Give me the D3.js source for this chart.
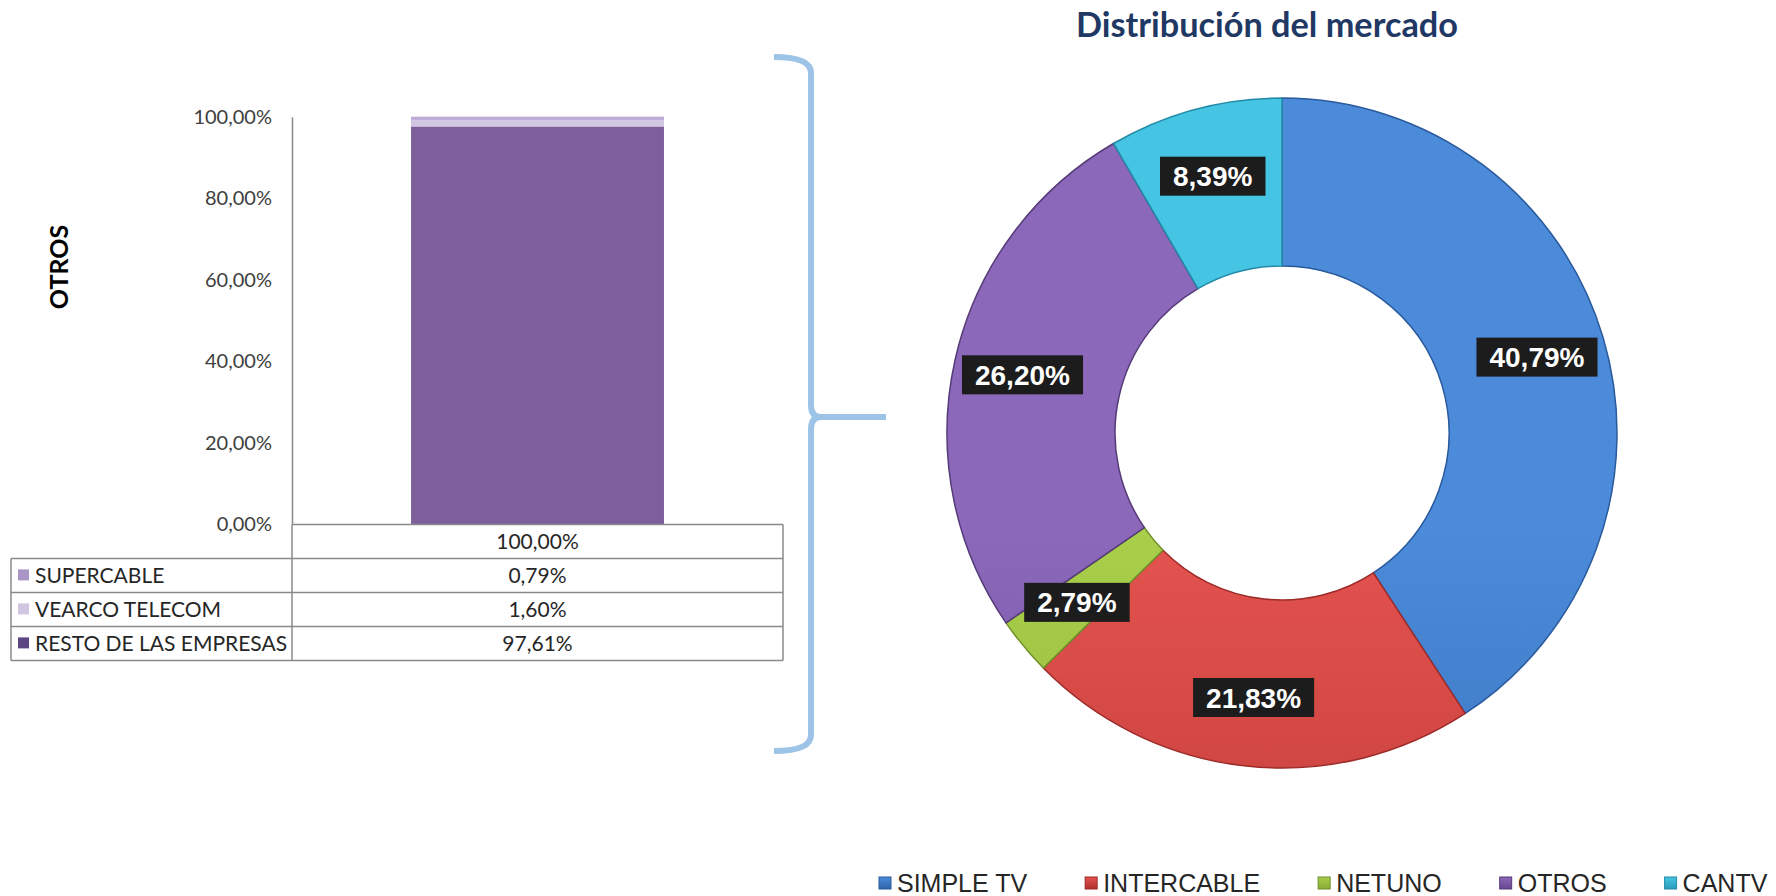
<!DOCTYPE html>
<html>
<head>
<meta charset="utf-8">
<script src="https://cdn.jsdelivr.net/npm/d3@7"></script>
<style>
  body { margin: 0; background: #ffffff; }
  svg { display: block; }
</style>
</head>
<body>
<svg id="chart" width="1776" height="896"></svg>
<script>
// left stacked bar (OTROS breakdown)
const barCategory = ["100,00%"];
const barSeries = ["SUPERCABLE", "VEARCO TELECOM", "RESTO DE LAS EMPRESAS"];
const barValues = [0.79, 1.60, 97.61];
const yTicks = [0, 20, 40, 60, 80, 100];

// donut (market share)
const marketLabels = ["SIMPLE TV", "INTERCABLE", "NETUNO", "OTROS", "CANTV"];
const marketValues = [40.79, 21.83, 2.79, 26.20, 8.39];

const barFill = ["#bcaad5", "#d2c7e3", "#7d5f9c"];
const barKey = ["#a996c6", "#d0c6e1", "#5b4682"];
const sliceTop = ["#4b8bd9", "#e4534f", "#a8ce4a", "#8b68ba", "#45c4e3"];
const sliceBottom = ["#2e63ac", "#ae302d", "#88ab33", "#66478e", "#2a9cba"];
const sliceEdge = ["#2a5a9c", "#9c2b29", "#6f8f28", "#553b78", "#238aa5"];

const loc = d3.formatLocale({ decimal: ",", thousands: ".", grouping: [3], currency: ["", ""] });
const pct = (v) => loc.format(".2f")(v) + "%";

const svg = d3.select("#chart");
const defs = svg.append("defs");

// ---------- left chart ----------
const axisX = 292, tableRight = 783, tableLeft = 11;
const y = d3.scaleLinear().domain([0, 100]).range([524.4, 116.7]);
const x = d3.scaleBand().domain(barCategory).range([axisX, tableRight]).padding(0.32);
const rowH = 34;

svg.append("text")
  .attr("transform", "translate(68,267) rotate(-90)")
  .attr("text-anchor", "middle")
  .attr("font-family", "Lato, sans-serif")
  .attr("font-weight", "bold")
  .attr("font-size", "25px")
  .attr("fill", "#000")
  .text("OTROS");

// stacked from bottom: RESTO, VEARCO, SUPERCABLE
const row = {};
barSeries.forEach((s, i) => (row[s] = barValues[i]));
const stack = d3.stack().keys(barSeries.slice().reverse())([row]);

svg.append("g")
  .selectAll("rect")
  .data(stack)
  .join("rect")
  .attr("x", x(barCategory[0]))
  .attr("width", x.bandwidth())
  .attr("y", (d) => y(d[0][1]))
  .attr("height", (d) => y(d[0][0]) - y(d[0][1]))
  .attr("fill", (d) => barFill[barSeries.indexOf(d.key)]);

const yAxis = svg.append("g")
  .attr("transform", "translate(" + axisX + ",0)")
  .call(d3.axisLeft(y).tickValues(yTicks).tickSize(0).tickPadding(20).tickFormat(pct));
yAxis.select(".domain").attr("stroke", "#8a8a8a").attr("stroke-width", 1.5);
yAxis.selectAll("text")
  .attr("font-family", "Lato, sans-serif")
  .attr("font-size", "20px")
  .attr("fill", "#404040");

// data table under the bar
const tbl = svg.append("g").attr("stroke", "#8a8a8a").attr("stroke-width", 1.5).attr("fill", "none");
const base = y(0);
const tableBottom = base + rowH * (barSeries.length + 1);
tbl.append("line").attr("x1", axisX).attr("x2", axisX).attr("y1", base).attr("y2", tableBottom);
tbl.append("line").attr("x1", tableRight).attr("x2", tableRight).attr("y1", base).attr("y2", tableBottom);
tbl.append("line").attr("x1", tableLeft).attr("x2", tableLeft).attr("y1", base + rowH).attr("y2", tableBottom);
tbl.append("line").attr("x1", axisX).attr("x2", tableRight).attr("y1", base).attr("y2", base);
tbl.selectAll("line.h")
  .data(d3.range(1, barSeries.length + 2))
  .join("line")
  .attr("class", "h")
  .attr("x1", tableLeft).attr("x2", tableRight)
  .attr("y1", (i) => base + i * rowH).attr("y2", (i) => base + i * rowH);

const cellFont = (sel) => sel.attr("font-family", "Lato, sans-serif").attr("font-size", "21px").attr("fill", "#262626");
const colMid = x(barCategory[0]) + x.bandwidth() / 2;

svg.append("text")
  .attr("x", colMid).attr("y", base + rowH / 2)
  .attr("dy", "0.35em").attr("text-anchor", "middle")
  .call(cellFont)
  .text(barCategory[0]);

const rows = svg.append("g").selectAll("g")
  .data(barSeries)
  .join("g")
  .attr("transform", (d, i) => "translate(0," + (base + (i + 1) * rowH) + ")");
rows.append("rect")
  .attr("x", 18).attr("y", rowH / 2 - 6).attr("width", 11).attr("height", 11)
  .attr("fill", (d, i) => barKey[i]);
rows.append("text")
  .attr("x", 35).attr("y", rowH / 2).attr("dy", "0.35em")
  .call(cellFont)
  .text((d) => d);
rows.append("text")
  .attr("x", colMid).attr("y", rowH / 2).attr("dy", "0.35em")
  .attr("text-anchor", "middle")
  .call(cellFont)
  .text((d, i) => pct(barValues[i]));

// brace linking OTROS to the donut
const bx = 811, bTop = 57, bBot = 751, bMid = 417;
svg.append("path")
  .attr("d",
    "M774," + bTop + " Q" + bx + "," + bTop + " " + bx + "," + (bTop + 16) +
    " L" + bx + "," + (bMid - 12) + " Q" + bx + "," + bMid + " " + (bx + 10) + "," + bMid +
    " L886," + bMid +
    " M" + (bx + 10) + "," + bMid + " Q" + bx + "," + bMid + " " + bx + "," + (bMid + 12) +
    " L" + bx + "," + (bBot - 16) + " Q" + bx + "," + bBot + " 774," + bBot)
  .attr("fill", "none")
  .attr("stroke", "#9dc3e6")
  .attr("stroke-width", 6);

// ---------- right chart ----------
const cx = 1282, cy = 433, R = 335, r0 = 167;

svg.append("text")
  .attr("x", 1267).attr("y", 37)
  .attr("text-anchor", "middle")
  .attr("font-family", "Lato, sans-serif")
  .attr("font-weight", "bold")
  .attr("font-size", "35px")
  .attr("textLength", 382)
  .attr("lengthAdjust", "spacingAndGlyphs")
  .attr("fill", "#1f3864")
  .text("Distribución del mercado");

marketLabels.forEach((m, i) => {
  const g = defs.append("linearGradient")
    .attr("id", "sg" + i)
    .attr("gradientUnits", "userSpaceOnUse")
    .attr("x1", 0).attr("x2", 0).attr("y1", cy - R).attr("y2", cy + R);
  g.append("stop").attr("offset", "0%").attr("stop-color", sliceTop[i]);
  g.append("stop").attr("offset", "100%").attr("stop-color", sliceBottom[i]);
  const k = defs.append("linearGradient")
    .attr("id", "kg" + i)
    .attr("x1", 0).attr("x2", 0).attr("y1", 0).attr("y2", 1);
  k.append("stop").attr("offset", "0%").attr("stop-color", sliceTop[i]);
  k.append("stop").attr("offset", "100%").attr("stop-color", sliceBottom[i]);
});

const pie = d3.pie().sort(null).value((d) => d)(marketValues);
const arc = d3.arc().innerRadius(r0).outerRadius(R);
const labelArc = d3.arc().innerRadius(266).outerRadius(266);

const donut = svg.append("g").attr("transform", "translate(" + cx + "," + cy + ")");
donut.selectAll("path")
  .data(pie)
  .join("path")
  .attr("d", arc)
  .attr("fill", (d, i) => "url(#sg" + i + ")")
  .attr("stroke", (d, i) => sliceEdge[i])
  .attr("stroke-width", 1.5);

const lab = donut.selectAll("g.lab")
  .data(pie)
  .join("g")
  .attr("class", "lab")
  .attr("transform", (d) => "translate(" + labelArc.centroid(d) + ")");
lab.append("text")
  .attr("text-anchor", "middle")
  .attr("dy", "0.36em")
  .attr("font-family", "'Liberation Sans', Arial, sans-serif")
  .attr("font-weight", "bold")
  .attr("font-size", "28px")
  .attr("fill", "#ffffff")
  .text((d) => pct(d.data));
lab.each(function () {
  const t = d3.select(this).select("text");
  const b = t.node().getBBox();
  d3.select(this).insert("rect", "text")
    .attr("x", b.x - 13).attr("y", -19.5)
    .attr("width", b.width + 26).attr("height", 39)
    .attr("fill", "#1c1c1c");
});

// legend
const legend = svg.append("g").attr("transform", "translate(879,883)");
let lx = 0;
marketLabels.forEach((m, i) => {
  const it = legend.append("g").attr("transform", "translate(" + lx + ",0)");
  it.append("rect")
    .attr("x", 0).attr("y", -6).attr("width", 12).attr("height", 12)
    .attr("fill", "url(#kg" + i + ")")
    .attr("stroke", sliceEdge[i]).attr("stroke-width", 1);
  const t = it.append("text")
    .attr("x", 18).attr("y", 0).attr("dy", "0.36em")
    .attr("font-family", "'Liberation Sans', Arial, sans-serif")
    .attr("font-size", "25px")
    .attr("fill", "#262626")
    .text(m);
  lx += 18 + t.node().getComputedTextLength() + 58;
});
</script>
</body>
</html>
